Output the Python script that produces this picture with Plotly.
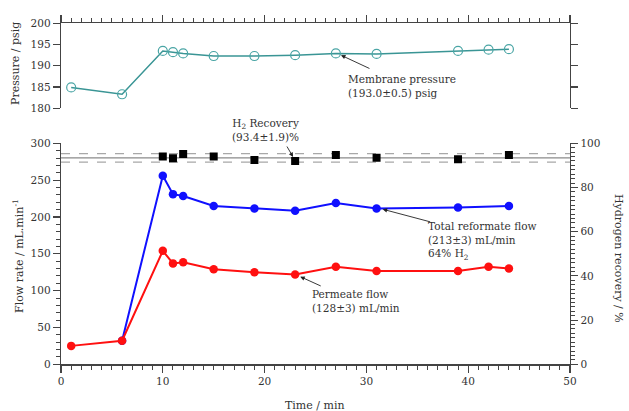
import plotly.graph_objects as go

# ---- data ----
time_pressure = [1, 6, 10, 11, 12, 15, 19, 23, 27, 31, 39, 42, 44]
pressure = [184.9, 183.3, 193.5, 193.2, 192.9, 192.3, 192.3, 192.5, 192.9, 192.8, 193.5, 193.8, 193.9]

time_permeate = [1, 6, 10, 11, 12, 15, 19, 23, 27, 31, 39, 42, 44]
permeate_flow = [25, 32, 154, 137, 138.5, 129, 125, 122, 132.5, 126.5, 126.5, 132.5, 130]

time_total = [6, 10, 11, 12, 15, 19, 23, 27, 31, 39, 44]
total_flow = [32, 256, 231, 228.5, 215, 211.5, 208.5, 219, 211.5, 213, 215]

time_recovery = [10, 11, 12, 15, 19, 23, 27, 31, 39, 44]
recovery = [94.0, 93.2, 95.2, 94.0, 92.4, 92.0, 94.7, 93.5, 92.8, 94.7]
recovery_mean = 93.4
recovery_sd = 1.9

FONT = "DejaVu Serif"
TXT = "#333333"
AX = "#444444"

# pixel -> paper helpers (page body margin removed in post_script)
W, H = 629, 411
def px(x):
    return x / W
def py(y):
    return (H - y) / H

fig = go.Figure()

# top panel: membrane pressure
fig.add_trace(go.Scatter(x=time_pressure, y=pressure, xaxis="x2", yaxis="y3",
                         mode="lines+markers",
                         line=dict(color="#3a9595", width=1.5),
                         marker=dict(symbol="circle-open", size=9, color="#4aa5a5",
                                     line=dict(width=1.2, color="#4aa5a5")),
                         showlegend=False))

# bottom panel flows
fig.add_trace(go.Scatter(x=time_total, y=total_flow, xaxis="x", yaxis="y",
                         mode="lines+markers",
                         line=dict(color="#1010ff", width=2),
                         marker=dict(symbol="circle", size=8.5, color="#1010ff"),
                         showlegend=False))
fig.add_trace(go.Scatter(x=time_permeate, y=permeate_flow, xaxis="x", yaxis="y",
                         mode="lines+markers",
                         line=dict(color="#ff1010", width=2),
                         marker=dict(symbol="circle", size=8.5, color="#ff1010"),
                         showlegend=False))
fig.add_trace(go.Scatter(x=time_recovery, y=recovery, xaxis="x", yaxis="y2",
                         mode="markers",
                         marker=dict(symbol="square", size=8, color="black"),
                         showlegend=False))

# recovery mean +/- sd lines
fig.add_shape(type="line", xref="x domain", yref="y2", x0=0, x1=1,
              y0=recovery_mean, y1=recovery_mean,
              line=dict(color="#8a8a8a", width=1.3), layer="below")
for v in (recovery_mean - recovery_sd, recovery_mean + recovery_sd):
    fig.add_shape(type="line", xref="x domain", yref="y2", x0=0, x1=1,
                  y0=v, y1=v, line=dict(color="#a8a8a8", width=1.2, dash="dash"),
                  layer="below")

tickfont = dict(family=FONT, size=10.5, color=TXT)
xdom = [px(61), px(570)]

fig.update_layout(
    width=W, height=H,
    margin=dict(l=0, r=0, t=0, b=0, autoexpand=False),
    paper_bgcolor="white", plot_bgcolor="white",
    font=dict(family=FONT, color=TXT),
    xaxis=dict(domain=xdom, range=[0, 50], anchor="y", dtick=10, automargin=False,
               showline=True, linecolor=AX, linewidth=1.3,
               ticks="outside", ticklen=7, tickwidth=1.2, tickcolor=AX,
               minor=dict(dtick=1, ticklen=4, tickwidth=1, tickcolor=AX, ticks="outside"),
               showgrid=False, zeroline=False, tickfont=tickfont),
    yaxis=dict(domain=[py(364.3), py(143.3)], range=[0, 300], anchor="x", dtick=50,
               automargin=False,
               showline=True, linecolor=AX, linewidth=1.3,
               ticks="outside", ticklen=7, tickwidth=1.2, tickcolor=AX,
               minor=dict(dtick=10, ticklen=4, tickwidth=1, tickcolor=AX, ticks="outside"),
               showgrid=False, zeroline=False, tickfont=tickfont),
    yaxis2=dict(overlaying="y", side="right", range=[0, 100], anchor="x", dtick=20,
                automargin=False,
                showline=True, linecolor=AX, linewidth=1.3,
                ticks="outside", ticklen=7, tickwidth=1.2, tickcolor=AX,
                minor=dict(dtick=2, ticklen=4, tickwidth=1, tickcolor=AX, ticks="outside"),
                showgrid=False, zeroline=False, tickfont=tickfont),
    xaxis2=dict(domain=xdom, range=[0, 50], anchor="y3", side="top", dtick=10,
                automargin=False,
                showline=True, linecolor=AX, linewidth=1.3,
                ticks="outside", ticklen=7, tickwidth=1.2, tickcolor=AX,
                minor=dict(dtick=1, ticklen=4, tickwidth=1, tickcolor=AX, ticks="outside"),
                showticklabels=False, showgrid=False, zeroline=False),
    yaxis3=dict(domain=[py(108.3), py(23.3)], range=[180, 200], anchor="x2", dtick=5,
                automargin=False,
                showline=True, linecolor=AX, linewidth=1.3, mirror="ticks",
                ticks="outside", ticklen=7, tickwidth=1.2, tickcolor=AX,
                showgrid=False, zeroline=False, tickfont=tickfont),
)

afont = dict(family=FONT, size=10.5, color=TXT)
tfont = dict(family=FONT, size=11, color=TXT)
annotations = [
    # axis titles
    dict(text="Pressure / psig", x=px(15), y=py(64), textangle=-90, font=tfont,
         xanchor="center", yanchor="middle"),
    dict(text="Flow rate / mL.min<sup>-1</sup>", x=px(18), y=py(256), textangle=-90, font=tfont,
         xanchor="center", yanchor="middle"),
    dict(text="Hydrogen recovery / %", x=px(619), y=py(258), textangle=90, font=tfont,
         xanchor="center", yanchor="middle"),
    dict(text="Time / min", x=px(315), y=py(405), font=tfont,
         xanchor="center", yanchor="middle"),
    # annotation texts
    dict(text="Membrane pressure<br>(193.0±0.5) psig", x=px(346), y=py(85.5),
         xanchor="left", yanchor="middle", align="left", font=afont),
    dict(text="H<sub>2</sub> Recovery<br>(93.4±1.9)%", x=px(265), y=py(130),
         xanchor="center", yanchor="middle", align="center", font=afont),
    dict(text="Total reformate flow<br>(213±3) mL/min<br>64% H<sub>2</sub>", x=px(426), y=py(241),
         xanchor="left", yanchor="middle", align="left", font=afont),
    dict(text="Permeate flow<br>(128±3) mL/min", x=px(310), y=py(300.5),
         xanchor="left", yanchor="middle", align="left", font=afont),
]
for a in annotations:
    a.update(xref="paper", yref="paper", showarrow=False)

arrows = [
    dict(x=27.5, y=192.5, xref="x2", yref="y3", ax=30, ay=14),
    dict(x=22.8, y=93.8, xref="x", yref="y2", ax=-7, ay=-12),
    dict(x=31.6, y=210.5, xref="x", yref="y", ax=49, ay=13),
    dict(x=23.5, y=119, xref="x", yref="y", ax=22, ay=10),
]
for a in arrows:
    a.update(text="", showarrow=True, arrowhead=2, arrowsize=1, arrowwidth=0.9,
             arrowcolor="#222")

fig.update_layout(annotations=annotations + arrows)

fig.write_html(
    "out.html",
    config={"displayModeBar": False, "staticPlot": True},
    post_script=(
        "document.body.style.margin='0';"
        "document.body.style.overflow='hidden';"
        "document.documentElement.style.overflow='hidden';"
    ),
)
